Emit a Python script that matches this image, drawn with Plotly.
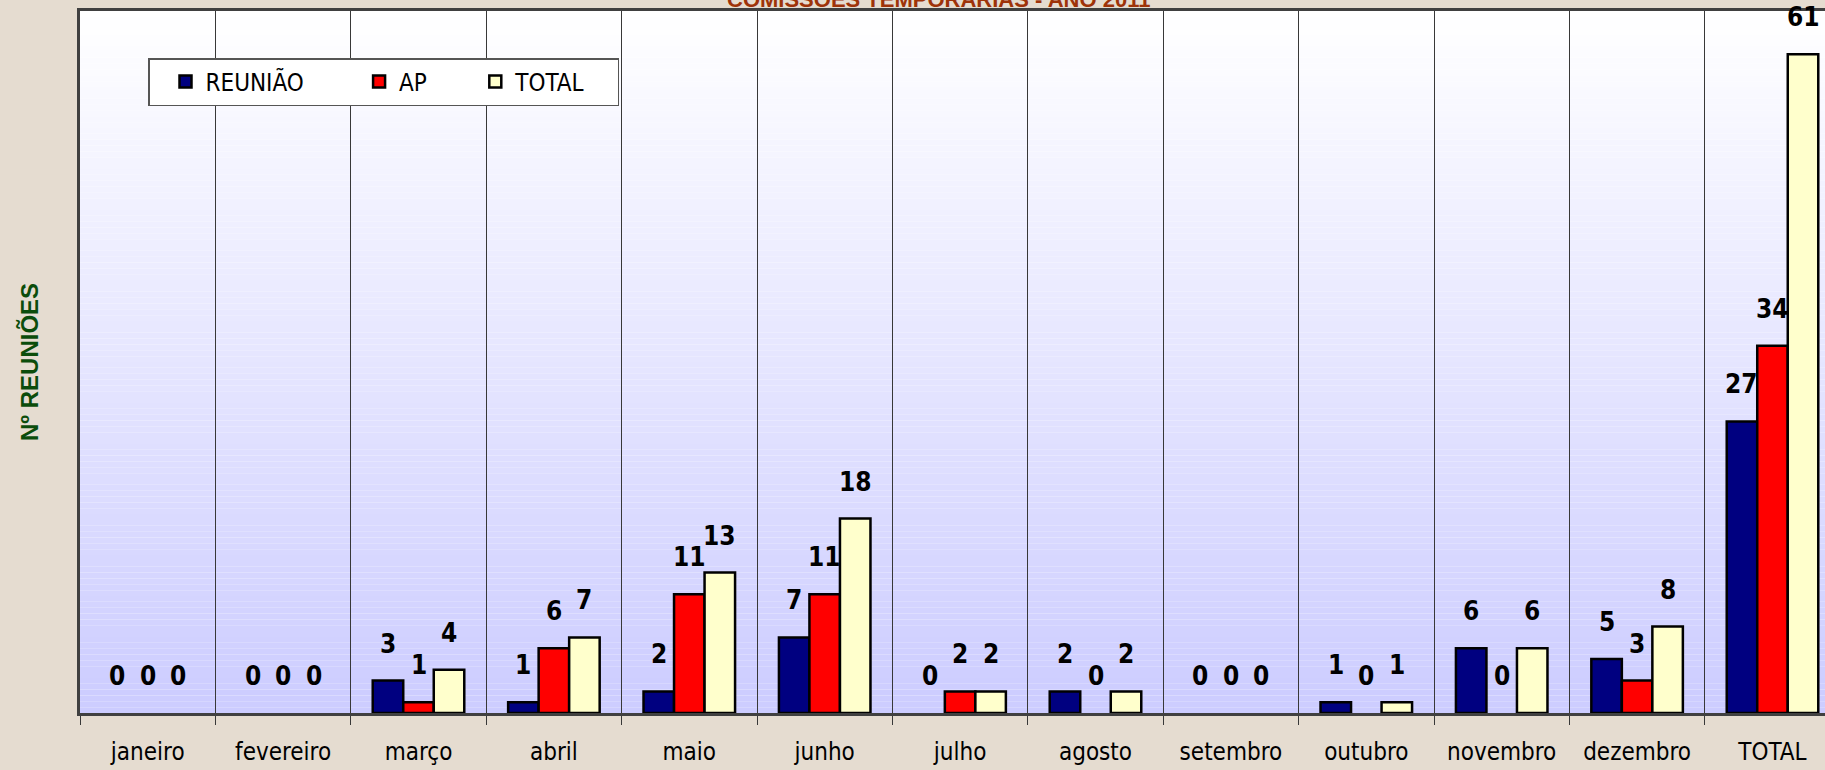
import plotly.graph_objects as go

# ---- data ----
categories = ["janeiro", "fevereiro", "março", "abril", "maio", "junho", "julho",
              "agosto", "setembro", "outubro", "novembro", "dezembro", "TOTAL"]
reuniao = [0, 0, 3, 1, 2, 7, 0, 2, 0, 1, 6, 5, 27]
ap = [0, 0, 1, 6, 11, 11, 2, 0, 0, 0, 0, 3, 34]
total = [0, 0, 4, 7, 13, 18, 2, 2, 0, 1, 6, 8, 61]
series_names = ["REUNIÃO", "AP", "TOTAL"]
title_text = "COMISSÕES TEMPORÁRIAS - ANO 2011"
y_title = "Nº REUNIÕES"

# ---- style ----
colors = ["#000080", "#FF0000", "#FFFFCC"]
legend_pad = [5, 4, 4]
W, H = 1825, 770
ML, MR, MT, MB = 80, 0, 11, 57
CAT_PX = 135.4
PLOT_W = W - ML - MR
BARGAP = 0.324
BAR_PX = CAT_PX * (1 - BARGAP) / 3
NARROW = "DejaVu Sans Condensed, Liberation Sans Narrow, Arial Narrow, sans-serif"
BOLDF = "Liberation Sans, Arial, sans-serif"

fig = go.Figure()
all_series = [reuniao, ap, total]
for name, vals, col, pad in zip(series_names, all_series, colors, legend_pad):
    # zero-height bars are not drawn (only their value label is shown)
    fig.add_bar(x=categories, y=[v if v != 0 else None for v in vals],
                name=name + "\u00a0" * pad,
                marker=dict(color=col, line=dict(color="black", width=2.5)))

# value labels
for i, vals in enumerate(all_series):
    for c, v in zip(categories, vals):
        fig.add_annotation(x=c, y=v, text=str(v), showarrow=False,
                           xshift=(i - 1) * BAR_PX, yshift=20, yanchor="bottom",
                           font=dict(family=NARROW, size=26, color="black", weight="bold"))

# gradient plot background
N = 120
for k in range(N):
    f = (k + 0.5) / N  # 0 bottom -> 1 top
    r = int(round(204 + (255 - 204) * f))
    fig.add_shape(type="rect", xref="x domain", yref="y domain",
                  x0=0, x1=1, y0=k / N, y1=(k + 1) / N,
                  fillcolor=f"rgb({r},{r},255)", line=dict(width=0), layer="below")

# title (cut at top, as in the original)
fig.add_annotation(text=title_text, xref="paper", yref="paper", x=(938 - ML) / PLOT_W, y=1,
                   xanchor="center", yanchor="bottom", yshift=-3, showarrow=False,
                   font=dict(family=BOLDF, size=22, color="#9E3309", weight="bold"))
# y title
fig.add_annotation(text=y_title, xref="paper", yref="paper", x=(29 - ML) / PLOT_W, y=0.5,
                   xanchor="center", yanchor="middle", textangle=-90, showarrow=False,
                   font=dict(family=BOLDF, size=24, color="#0B4D0B", weight="bold"))

fig.update_layout(
    width=W, height=H,
    margin=dict(l=ML, r=MR, t=MT, b=MB, pad=0, autoexpand=False),
    paper_bgcolor="#E5DCD0",
    plot_bgcolor="#FFFFFF",
    barmode="group", bargap=BARGAP, bargroupgap=0,
    showlegend=True,
    legend=dict(orientation="h", x=(148 - ML) / PLOT_W, y=(713 - 58) / 702,
                xanchor="left", yanchor="top", indentation=16,
                bgcolor="white", bordercolor="#555555", borderwidth=1.5,
                font=dict(family=NARROW, size=24, color="black")),
    xaxis=dict(type="category", range=[-0.5, -0.5 + PLOT_W / CAT_PX],
               tickson="boundaries", showgrid=True, gridcolor="#383838", gridwidth=1.3,
               ticks="outside", ticklen=9, tickcolor="#383838", tickwidth=1.3,
               showline=True, linecolor="#404040", linewidth=2.5, mirror=True,
               tickangle=0, automargin=False, ticklabelstandoff=15,
               tickfont=dict(family=NARROW, size=24, color="black"), zeroline=False),
    yaxis=dict(range=[0, 65], showgrid=False, showticklabels=False, ticks="",
               showline=True, linecolor="#404040", linewidth=2.5, zeroline=False,
               automargin=False),
)

fig.write_html("out.html", config={"displayModeBar": False},
               post_script="document.body.style.margin='0px';"
                           "document.body.style.overflow='hidden';")
